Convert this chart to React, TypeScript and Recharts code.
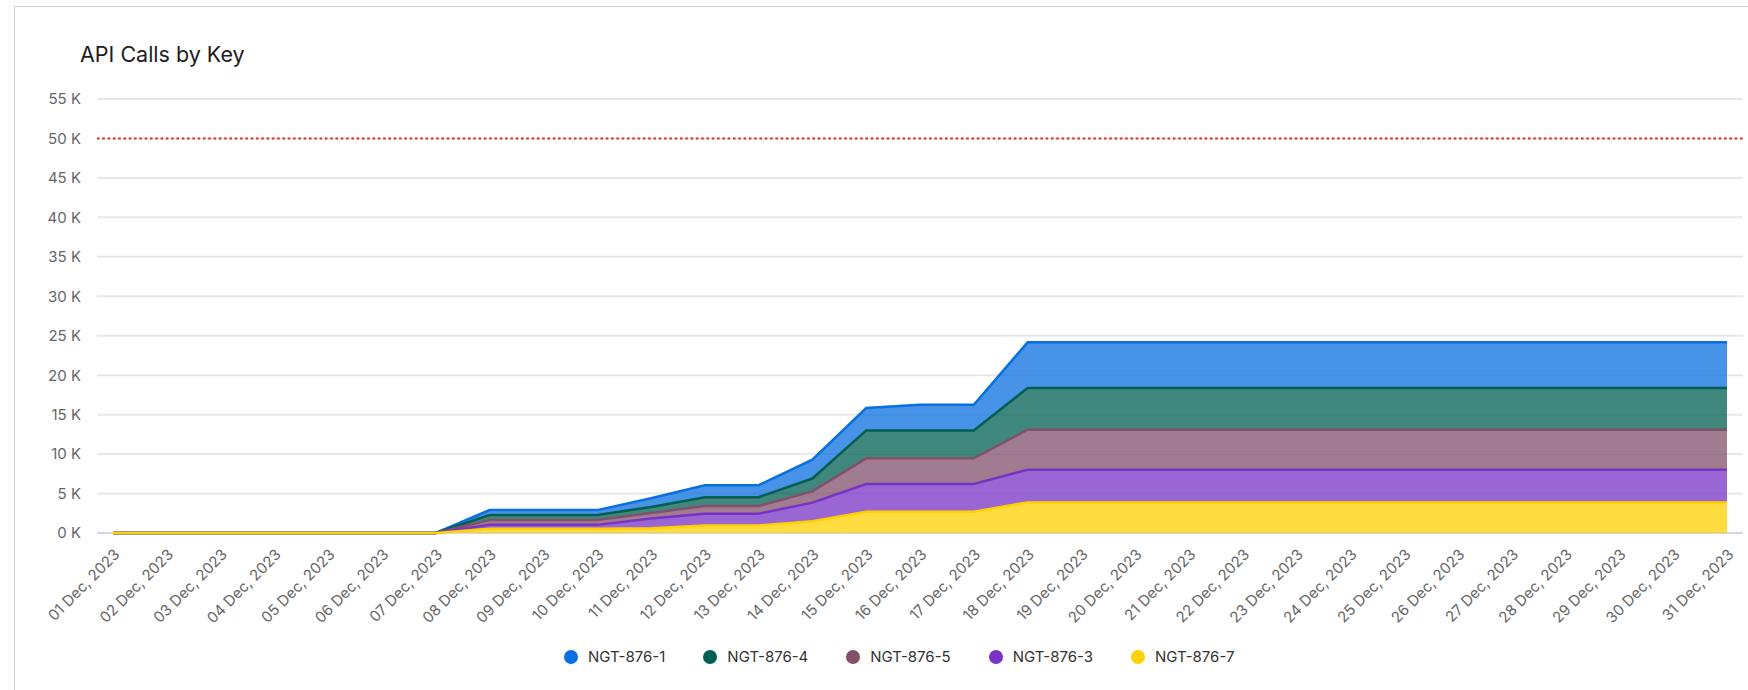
import React from 'react';
import { AreaChart, Area, XAxis, YAxis, CartesianGrid, ReferenceLine } from 'recharts';

// days on the x axis
const days = [
  '01 Dec, 2023', '02 Dec, 2023', '03 Dec, 2023', '04 Dec, 2023', '05 Dec, 2023',
  '06 Dec, 2023', '07 Dec, 2023', '08 Dec, 2023', '09 Dec, 2023', '10 Dec, 2023',
  '11 Dec, 2023', '12 Dec, 2023', '13 Dec, 2023', '14 Dec, 2023', '15 Dec, 2023',
  '16 Dec, 2023', '17 Dec, 2023', '18 Dec, 2023', '19 Dec, 2023', '20 Dec, 2023',
  '21 Dec, 2023', '22 Dec, 2023', '23 Dec, 2023', '24 Dec, 2023', '25 Dec, 2023',
  '26 Dec, 2023', '27 Dec, 2023', '28 Dec, 2023', '29 Dec, 2023', '30 Dec, 2023',
  '31 Dec, 2023',
];

// calls per key (stacked)
const key1 = [0, 0, 0, 0, 0, 0, 0, 630, 630, 630, 1100, 1520, 1520, 2400, 2840, 3260, 3260,
  5780, 5780, 5780, 5780, 5780, 5780, 5780, 5780, 5780, 5780, 5780, 5780, 5780, 5780];
const key4 = [0, 0, 0, 0, 0, 0, 0, 620, 620, 620, 770, 1120, 1120, 1620, 3540, 3540, 3540,
  5290, 5290, 5290, 5290, 5290, 5290, 5290, 5290, 5290, 5290, 5290, 5290, 5290, 5290];
const key5 = [0, 0, 0, 0, 0, 0, 0, 620, 620, 620, 690, 970, 970, 1430, 3250, 3250, 3250,
  5070, 5070, 5070, 5070, 5070, 5070, 5070, 5070, 5070, 5070, 5070, 5070, 5070, 5070];
const key3 = [0, 0, 0, 0, 0, 0, 0, 480, 480, 480, 1250, 1500, 1500, 2350, 3510, 3510, 3510,
  4140, 4140, 4140, 4140, 4140, 4140, 4140, 4140, 4140, 4140, 4140, 4140, 4140, 4140];
const key7 = [0, 0, 0, 0, 0, 0, 0, 550, 550, 550, 590, 950, 950, 1500, 2700, 2700, 2700,
  3880, 3880, 3880, 3880, 3880, 3880, 3880, 3880, 3880, 3880, 3880, 3880, 3880, 3880];

const yTicks = [0, 5000, 10000, 15000, 20000, 25000, 30000, 35000, 40000, 45000, 50000, 55000];
const limitValue = 50000;

// legend order; stack is reversed so the last one sits at the bottom
const series = [
  { name: 'NGT-876-1', values: key1, color: '#0a6fe0' },
  { name: 'NGT-876-4', values: key4, color: '#005f52' },
  { name: 'NGT-876-5', values: key5, color: '#82506b' },
  { name: 'NGT-876-3', values: key3, color: '#7733c4' },
  { name: 'NGT-876-7', values: key7, color: '#ffd100' },
];

const table = days.map((day, i) => {
  const row: Record<string, string | number> = { day };
  series.forEach(s => { row[s.name] = s.values[i]; });
  return row;
});

const font = 'Inter, "Noto Sans", sans-serif';

export default function App() {
  return (
    <div style={{ position: 'absolute', left: 0, top: 0, width: 1748, height: 690, overflow: 'hidden', fontFamily: font, background: '#fff' }}>
      {/* card */}
      <div style={{
        position: 'absolute', left: 14, top: 6, width: 1734, height: 684,
        borderLeft: '1px solid #cfcfcf', borderTop: '1px solid #cfcfcf', boxSizing: 'border-box',
      }} />

      <div style={{ position: 'absolute', left: 80, top: 44, fontSize: 21.5, lineHeight: '21.5px', color: '#1c1c1c' }}>
        API Calls by Key
      </div>

      <div style={{ position: 'absolute', left: 48, top: 0 }}>
        <AreaChart
          width={1700}
          height={690}
          data={table}
          margin={{ top: 99, right: 5, bottom: 57, left: 0 }}
          reverseStackOrder
        >
          <CartesianGrid vertical={false} stroke="#e8e8e8" strokeWidth={2} />
          <XAxis
            dataKey="day"
            interval={0}
            angle={-45}
            textAnchor="end"
            height={100}
            tickLine={false}
            tickSize={0}
            tickMargin={15}
            padding={{ left: 16, right: 16 }}
            axisLine={{ stroke: '#d3d7e6', strokeWidth: 2 }}
            tick={{ fill: '#666', fontSize: 15, fontFamily: font }}
          />
          <YAxis
            width={49}
            domain={[0, 55000]}
            ticks={yTicks}
            tickFormatter={(v: number) => `${v / 1000} K`}
            axisLine={false}
            tickLine={false}
            tickSize={0}
            tickMargin={16}
            tick={{ fill: '#666', fontSize: 15, fontFamily: font }}
          />
          <ReferenceLine y={limitValue} stroke="#e3262b" strokeWidth={2} strokeDasharray="2.5 2.8" />
          {series.map(s => (
            <Area
              key={s.name}
              type="linear"
              dataKey={s.name}
              stackId="calls"
              stroke={s.color}
              strokeWidth={2.5}
              fill={s.color}
              fillOpacity={0.75}
              dot={false}
              activeDot={false}
              zIndex={600}
              isAnimationActive={false}
            />
          ))}
        </AreaChart>
      </div>

      {/* legend */}
      <div style={{ position: 'absolute', left: 564, top: 647, display: 'flex', alignItems: 'center', gap: 38 }}>
        {series.map(s => (
          <div key={s.name} style={{ display: 'flex', alignItems: 'center' }}>
            <div style={{ width: 14, height: 14, borderRadius: '50%', background: s.color, marginRight: 10 }} />
            <span style={{ fontSize: 15, color: '#333', lineHeight: '20px' }}>{s.name}</span>
          </div>
        ))}
      </div>
    </div>
  );
}
